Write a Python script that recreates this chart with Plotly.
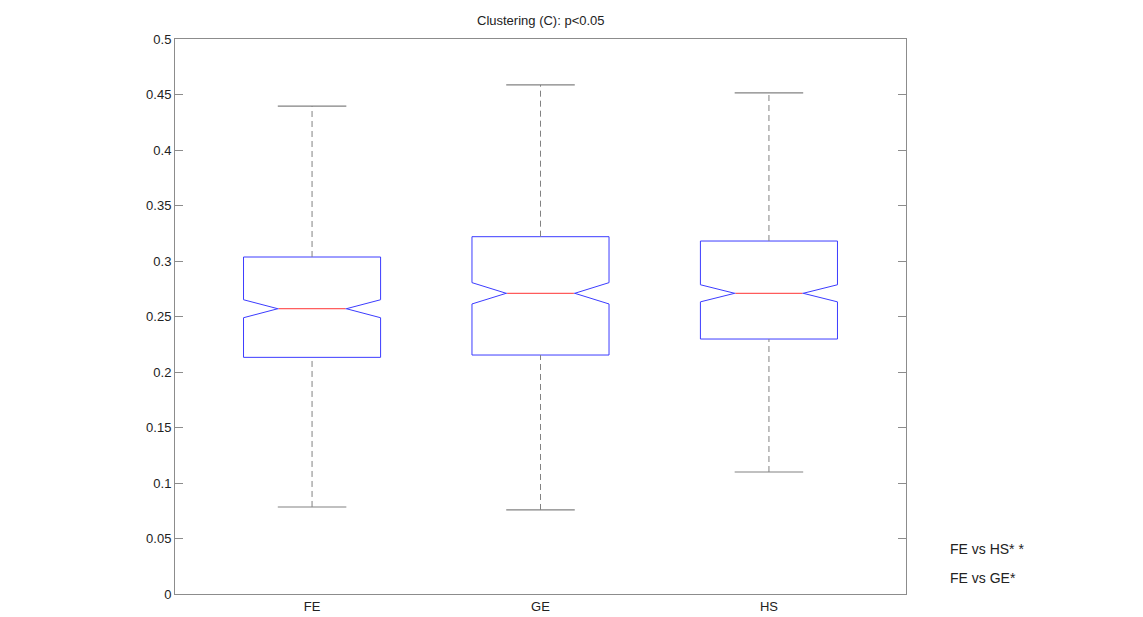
import plotly.graph_objects as go

# Clustering coefficient summaries per group
groups = ["FE", "GE", "HS"]
positions = [1, 2, 3]
lower_whisker = [0.0784, 0.0757, 0.1099]
q1 = [0.2132, 0.2153, 0.2297]
median = [0.2570, 0.2709, 0.2709]
q3 = [0.3036, 0.3219, 0.3180]
upper_whisker = [0.4396, 0.4586, 0.4514]
notch_half = [0.0081, 0.0096, 0.0077]

y_ticks = [0, 0.05, 0.1, 0.15, 0.2, 0.25, 0.3, 0.35, 0.4, 0.45, 0.5]
y_labels = ["0", "0.05", "0.1", "0.15", "0.2", "0.25", "0.3", "0.35", "0.4", "0.45", "0.5"]

comparisons = ["FE vs HS* *", "FE vs GE*"]

BOX_W = 0.6
NOTCH_W = 0.25
BLUE = "rgb(60,60,255)"
RED = "rgb(255,50,50)"
GRAY = "rgb(130,130,130)"
AXIS = "rgb(140,140,140)"
FONT = "Liberation Sans, Arial, sans-serif"

fig = go.Figure()

# Whiskers (dashed) and caps
wx, wy, cx, cy = [], [], [], []
cap_half = BOX_W / 4
for p, lo, a, b, hi in zip(positions, lower_whisker, q1, q3, upper_whisker):
    wx += [p, p, None, p, p, None]
    wy += [b, hi, None, lo, a, None]
    cx += [p - cap_half, p + cap_half, None, p - cap_half, p + cap_half, None]
    cy += [hi, hi, None, lo, lo, None]

fig.add_trace(go.Scatter(x=wx, y=wy, mode="lines", hoverinfo="skip",
                         line=dict(color=GRAY, width=1, dash="6px,4px")))
fig.add_trace(go.Scatter(x=cx, y=cy, mode="lines", hoverinfo="skip",
                         line=dict(color=GRAY, width=1.2)))

# Notched boxes
fig.add_trace(go.Box(
    x=positions, q1=q1, median=median, q3=q3,
    lowerfence=q1, upperfence=q3, notchspan=notch_half,
    notched=True, notchwidth=NOTCH_W, width=BOX_W, whiskerwidth=0,
    line=dict(color=BLUE, width=1), fillcolor="rgba(0,0,0,0)",
    boxpoints=False, hoverinfo="skip",
))

# Red median segments across the notch waist, layered above the boxes
# (a white backing stroke hides the box's own median line)
med_half = BOX_W / 2 * (1 - 2 * NOTCH_W)
shapes = []
for p, m in zip(positions, median):
    for col, w in (("white", 2.5), (RED, 1)):
        shapes.append(dict(type="line", xref="x", yref="y", layer="above",
                           x0=p - med_half + 0.004, x1=p + med_half - 0.004,
                           y0=m, y1=m, line=dict(color=col, width=w)))

annotations = [dict(
    text="Clustering (C): p<0.05", xref="paper", yref="paper",
    x=0.5, y=1, yshift=9, xanchor="center", yanchor="bottom",
    showarrow=False, font=dict(family=FONT, size=13, color="#222"),
)]
for i, txt in enumerate(comparisons):
    annotations.append(dict(
        text=txt, xref="paper", yref="paper",
        x=1.0575, y=(594 - 549 - 29 * i) / 555, xanchor="left", yanchor="middle",
        showarrow=False,
        font=dict(family="Liberation Sans Narrow, " + FONT, size=14, color="#222"),
    ))

fig.update_layout(
    width=1143, height=617,
    margin=dict(l=175, r=237, t=39, b=23),
    paper_bgcolor="white", plot_bgcolor="white",
    showlegend=False,
    font=dict(family=FONT, size=13, color="#222"),
    annotations=annotations,
    shapes=shapes,
)
fig.update_xaxes(
    range=[0.4, 3.6], tickvals=positions, ticktext=groups,
    showgrid=False, zeroline=False, ticks="", automargin=False,
    showline=True, linecolor=AXIS, linewidth=1, mirror=True,
    tickfont=dict(family=FONT, size=13, color="#222"),
)
fig.update_yaxes(
    range=[0, 0.5], tickvals=y_ticks, ticktext=y_labels,
    showgrid=False, zeroline=False, ticks="inside", ticklen=8,
    tickcolor=AXIS, automargin=False,
    showline=True, linecolor=AXIS, linewidth=1, mirror="ticks",
    tickfont=dict(family=FONT, size=13, color="#222"),
)

fig.write_html("out.html")
